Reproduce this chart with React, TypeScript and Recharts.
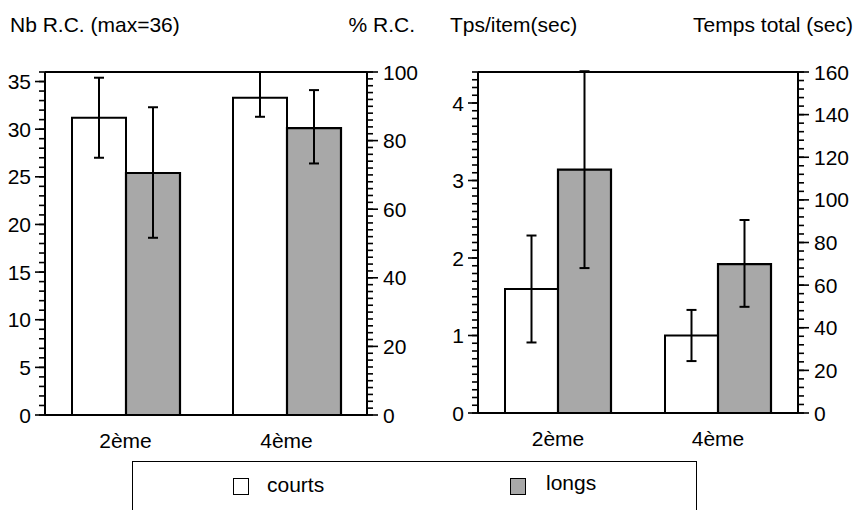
import React from "react";
import { BarChart, Bar, XAxis, YAxis, ErrorBar, ReferenceLine } from "recharts";

const niveaux = ["2ème", "4ème"];

// Nb R.C. (max=36), % R.C. on the right
const rcCourts = [31.2, 33.3];
const rcLongs = [25.4, 30.1];
const rcCourtsErr = [[4.2, 4.2], [2.0, 2.7]];
const rcLongsErr = [[6.8, 6.9], [3.7, 4.0]];

// Tps/item (sec), Temps total (sec) on the right
const tpsCourts = [1.6, 1.0];
const tpsLongs = [3.14, 1.92];
const tpsCourtsErr = [[0.69, 0.69], [0.33, 0.33]];
const tpsLongsErr = [[1.27, 1.27], [0.55, 0.57]];

const rcTicks = [0, 5, 10, 15, 20, 25, 30, 35];
const pctTicks = [0, 20, 40, 60, 80, 100];
const tpsTicks = [0, 1, 2, 3, 4];
const totalTicks = [0, 20, 40, 60, 80, 100, 120, 140, 160];

const FONT = "'Liberation Sans', Arial, sans-serif";
const GRIS = "#a8a8a8";
const FS = 21;

// small tick positions between 0 and max
const steps = (max: number, step: number) => {
  const out: number[] = [];
  for (let i = 0; i * step <= max + 1e-9; i++) out.push(Math.round(i * step * 1000) / 1000);
  return out;
};

const makeTick = (side: "left" | "right", len: number, gap: number) => (props: any) => {
  const { x, y, payload } = props;
  const dir = side === "left" ? -1 : 1;
  return (
    <g>
      <line x1={x} y1={y} x2={x + dir * len} y2={y} stroke="#000" strokeWidth={1.6} />
      <text
        x={x + dir * (len + gap)}
        y={y}
        dy="0.36em"
        textAnchor={side === "left" ? "end" : "start"}
        fontSize={FS}
        fill="#000"
      >
        {payload.value}
      </text>
    </g>
  );
};

const minorShape = (side: "left" | "right") => (p: any) => {
  const x = side === "left" ? Math.min(p.x1, p.x2) : Math.max(p.x1, p.x2);
  const dir = side === "left" ? -1 : 1;
  return <line x1={x} y1={p.y1} x2={x + dir * 6} y2={p.y1} stroke="#000" strokeWidth={1.6} />;
};

const rcData = niveaux.map((n, i) => ({
  niveau: n,
  courts: rcCourts[i],
  longs: rcLongs[i],
  courtsErr: rcCourtsErr[i],
  longsErr: rcLongsErr[i],
}));

const tpsData = niveaux.map((n, i) => ({
  niveau: n,
  courts: tpsCourts[i],
  longs: tpsLongs[i],
  courtsErr: tpsCourtsErr[i],
  longsErr: tpsLongsErr[i],
}));

const panneau = (
  data: any[],
  width: number,
  leftW: number,
  rightW: number,
  mRight: number,
  mBottom: number,
  leftMax: number,
  leftTicks: number[],
  leftMinorStep: number,
  rightMax: number,
  rightTicks: number[],
  rightMinorStep: number
) => (
  <BarChart
    width={width}
    height={460}
    data={data}
    margin={{ top: 72, right: mRight, left: 0, bottom: mBottom }}
    barGap={0}
    barCategoryGap={27}
  >
    <XAxis
      dataKey="niveau"
      tickLine={false}
      tickSize={0}
      tickMargin={18}
      axisLine={{ stroke: "#000", strokeWidth: 2 }}
      tick={{ fill: "#000", fontSize: FS }}
      height={30}
    />
    <YAxis
      yAxisId="g"
      orientation="left"
      type="number"
      domain={[0, leftMax]}
      allowDataOverflow
      ticks={leftTicks}
      interval={0}
      width={leftW}
      tickSize={0}
      tickMargin={0}
      tickLine={false}
      axisLine={{ stroke: "#000", strokeWidth: 2 }}
      tick={makeTick("left", 10, 4)}
    />
    <YAxis
      yAxisId="d"
      orientation="right"
      type="number"
      domain={[0, rightMax]}
      allowDataOverflow
      ticks={rightTicks}
      interval={0}
      width={rightW}
      tickSize={0}
      tickMargin={0}
      tickLine={false}
      axisLine={{ stroke: "#000", strokeWidth: 2 }}
      tick={makeTick("right", 11, 5)}
    />
    {steps(leftMax, leftMinorStep).map((v) => (
      <ReferenceLine key={`g${v}`} yAxisId="g" y={v} ifOverflow="visible" shape={minorShape("left")} />
    ))}
    {steps(rightMax, rightMinorStep).map((v) => (
      <ReferenceLine key={`d${v}`} yAxisId="d" y={v} ifOverflow="visible" shape={minorShape("right")} />
    ))}
    <ReferenceLine yAxisId="g" y={leftMax} stroke="#000" strokeWidth={2} />
    <Bar yAxisId="g" dataKey="courts" fill="#ffffff" stroke="#000" strokeWidth={2} isAnimationActive={false}>
      <ErrorBar dataKey="courtsErr" width={5} stroke="#000" strokeWidth={2} />
    </Bar>
    <Bar yAxisId="g" dataKey="longs" fill={GRIS} stroke="#000" strokeWidth={2.2} isAnimationActive={false}>
      <ErrorBar dataKey="longsErr" width={5} stroke="#000" strokeWidth={2} />
    </Bar>
  </BarChart>
);

export default function App() {
  return (
    <div
      style={{
        position: "absolute",
        left: 0,
        top: 0,
        width: 855,
        height: 510,
        overflow: "hidden",
        background: "#fff",
        fontFamily: FONT,
        color: "#000",
      }}
    >
      <div style={{ position: "absolute", left: 10, top: 13, fontSize: FS }}>Nb R.C. (max=36)</div>
      <div style={{ position: "absolute", right: 855 - 415, top: 13, fontSize: FS }}>% R.C.</div>
      <div style={{ position: "absolute", left: 450, top: 13, fontSize: FS }}>Tps/item(sec)</div>
      <div style={{ position: "absolute", right: 2, top: 13, fontSize: FS }}>Temps total (sec)</div>

      <div style={{ position: "absolute", left: 0, top: 0 }}>
        {panneau(rcData, 430, 45, 55, 8, 15, 36, rcTicks, 1, 100, pctTicks, 2)}
      </div>
      <div style={{ position: "absolute", left: 430, top: 0 }}>
        {panneau(tpsData, 425, 48, 55, 2, 17, 4.4, tpsTicks, 0.1, 160, totalTicks, 4)}
      </div>

      <div
        style={{
          position: "absolute",
          left: 132,
          top: 461,
          width: 563,
          height: 70,
          border: "1.5px solid #000",
          fontSize: FS,
        }}
      >
        <div
          style={{
            position: "absolute",
            left: 100,
            top: 16,
            width: 14,
            height: 15,
            border: "1.5px solid #000",
            background: "#fff",
          }}
        />
        <div style={{ position: "absolute", left: 134, top: 11 }}>courts</div>
        <div
          style={{
            position: "absolute",
            left: 377,
            top: 16,
            width: 14,
            height: 15,
            border: "1.5px solid #000",
            background: GRIS,
          }}
        />
        <div style={{ position: "absolute", left: 413, top: 9 }}>longs</div>
      </div>
    </div>
  );
}
